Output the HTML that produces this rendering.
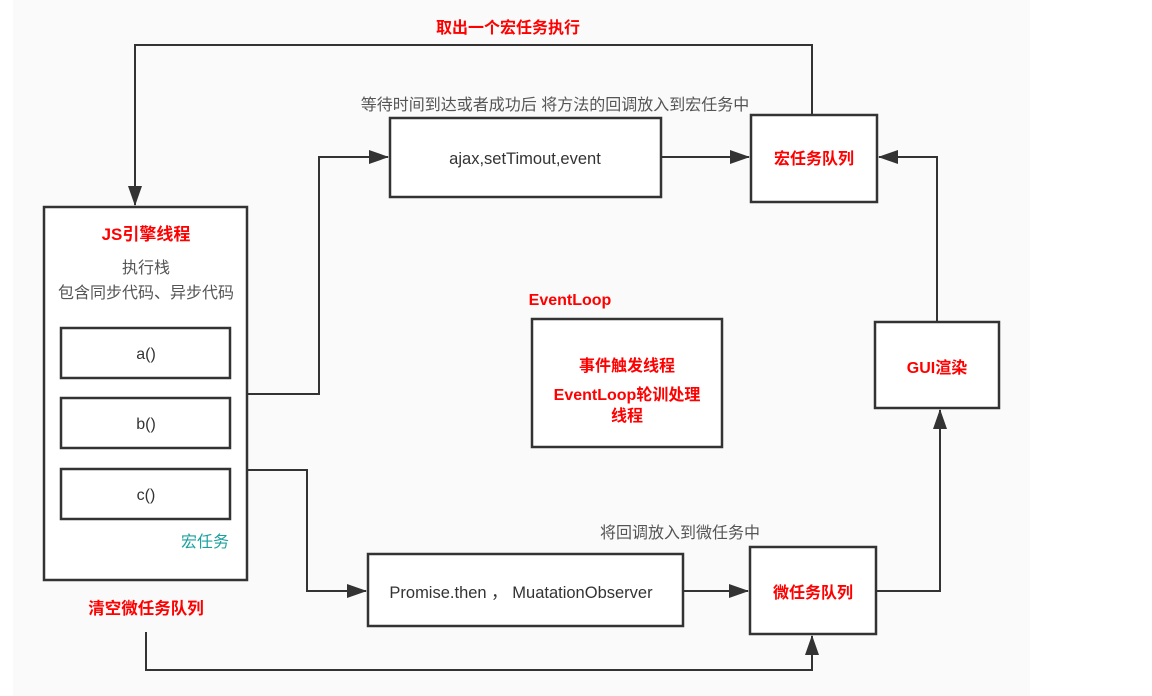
<!DOCTYPE html>
<html><head><meta charset="utf-8"><style>
html,body{margin:0;padding:0;background:#fff;}
svg{display:block;}
text{font-family:"Liberation Sans","Noto Sans CJK SC",sans-serif;}
</style></head><body>
<svg width="1152" height="696" xmlns="http://www.w3.org/2000/svg">
<defs>
<marker id="b" markerWidth="20" markerHeight="14" refX="19" refY="7" orient="auto" markerUnits="userSpaceOnUse">
<path d="M0,0 L20,7 L0,14 Z" fill="#333"/></marker>
</defs>
<rect x="13" y="0" width="1017" height="696" fill="#fafafa"/>
<g fill="#fff" stroke="#333" stroke-width="2.5">
<rect x="44" y="207" width="203" height="373"/>
<rect x="61" y="328" width="169" height="50"/>
<rect x="61" y="398" width="169" height="50"/>
<rect x="61" y="469" width="169" height="50"/>
<rect x="390" y="118" width="271" height="79"/>
<rect x="751" y="115" width="126" height="87"/>
<rect x="532" y="319" width="190" height="128"/>
<rect x="875" y="322" width="124" height="86"/>
<rect x="368" y="554" width="315" height="72"/>
<rect x="750" y="547" width="126" height="87"/>
</g>
<g fill="none" stroke="#333" stroke-width="2" marker-end="url(#b)">
<path d="M812,115 V45 H135 V205"/>
<path d="M247,394 H319 V157 H388"/>
<path d="M661,157 H749"/>
<path d="M247,470 H307 V591 H366"/>
<path d="M683,591 H748"/>
<path d="M876,591 H940 V410"/>
<path d="M937,322 V157 H879"/>
<path d="M146,632 V670 H812 V636"/>
</g>
<g font-size="16" text-anchor="middle">
<text x="508" y="33" fill="#f00" font-weight="bold">取出一个宏任务执行</text>
<text x="555" y="110" fill="#555">等待时间到达或者成功后 将方法的回调放入到宏任务中</text>
<text x="525" y="164" fill="#333" font-size="16.5">ajax,setTimout,event</text>
<text x="814" y="164" fill="#f00" font-weight="bold">宏任务队列</text>
<text x="146" y="240" fill="#f00" font-weight="bold" font-size="17">JS引擎线程</text>
<text x="146" y="273" fill="#555">执行栈</text>
<text x="146" y="298" fill="#555">包含同步代码、异步代码</text>
<text x="146" y="359" fill="#333">a()</text>
<text x="146" y="429" fill="#333">b()</text>
<text x="146" y="500" fill="#333">c()</text>
<text x="205" y="547" fill="#1aa0a0">宏任务</text>
<text x="570" y="305" fill="#f00" font-weight="bold">EventLoop</text>
<text x="627" y="371" fill="#f00" font-weight="bold">事件触发线程</text>
<text x="627" y="400" fill="#f00" font-weight="bold">EventLoop轮训处理</text>
<text x="627" y="421" fill="#f00" font-weight="bold">线程</text>
<text x="937" y="373" fill="#f00" font-weight="bold">GUI渲染</text>
<text x="680" y="538" fill="#555">将回调放入到微任务中</text>
<text x="521" y="598" fill="#333" font-size="16.5">Promise.then ，  MuatationObserver</text>
<text x="813" y="598" fill="#f00" font-weight="bold">微任务队列</text>
<text x="146" y="614" fill="#f00" font-weight="bold" font-size="16.5">清空微任务队列</text>
</g>
</svg>
</body></html>
